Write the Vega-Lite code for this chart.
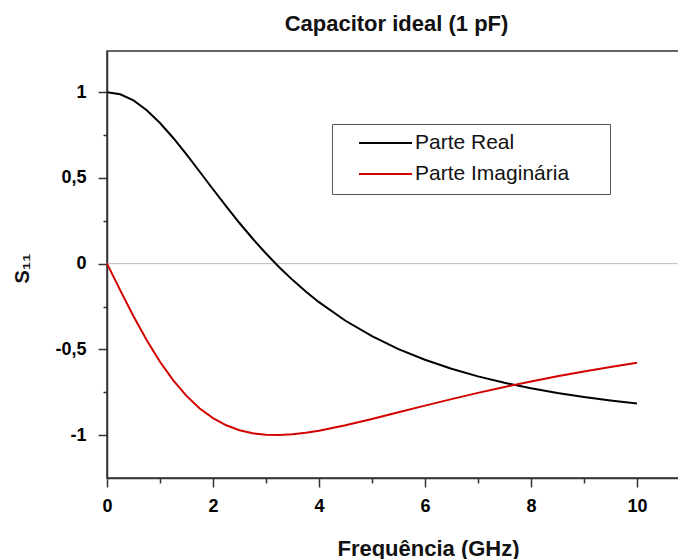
{
  "$schema": "https://vega.github.io/schema/vega-lite/v6.json",
  "width": 575,
  "height": 427,
  "autosize": "none",
  "padding": {"left": 107, "top": 51, "right": 0, "bottom": 81},
  "background": "white",
  "title": {"text": "Capacitor ideal (1 pF)", "font": "Liberation Sans", "fontSize": 22, "fontWeight": "bold", "color": "#111111", "anchor": "middle", "frame": "group", "baseline": "alphabetic", "offset": -2, "dx": 2},
  "config": {
    "view": {"stroke": "#333333", "strokeWidth": 1.5},
    "axis": {"grid": false, "domainColor": "#333333", "domainWidth": 1.5, "tickColor": "#333333", "tickWidth": 1.5, "labelFont": "Liberation Sans", "labelFontSize": 18, "labelFontWeight": "bold", "labelColor": "#000000", "labelFlush": false, "titleFont": "Liberation Sans", "titleFontWeight": "bold", "titleColor": "#111111"}
  },
  "layer": [
    {
      "data": {"values": [{"zero": 0}]},
      "mark": {"type": "rule", "color": "#bdbdbd", "strokeWidth": 1},
      "encoding": {
        "y": {"field": "zero", "type": "quantitative", "scale": {"domain": [-1.25, 1.24], "nice": false, "zero": false}, "axis": {"orient": "left", "values": [-0.75, -0.25, 0.25, 0.75], "labels": false, "domain": false, "tickSize": 4, "title": null}},
        "x": {"datum": 0, "type": "quantitative", "scale": {"domain": [0, 10.85], "nice": false}, "axis": {"orient": "bottom", "values": [1, 3, 5, 7, 9], "labels": false, "domain": false, "tickSize": 5, "title": null}},
        "x2": {"datum": 10.85}
      }
    },
    {
      "data": {"values": [
        {"f": 0, "s11": 1.0, "parte": "Parte Real"},
        {"f": 0.25, "s11": 0.9877, "parte": "Parte Real"},
        {"f": 0.5, "s11": 0.9518, "parte": "Parte Real"},
        {"f": 0.75, "s11": 0.8948, "parte": "Parte Real"},
        {"f": 1, "s11": 0.8203, "parte": "Parte Real"},
        {"f": 1.25, "s11": 0.7328, "parte": "Parte Real"},
        {"f": 1.5, "s11": 0.6366, "parte": "Parte Real"},
        {"f": 1.75, "s11": 0.5358, "parte": "Parte Real"},
        {"f": 2, "s11": 0.4339, "parte": "Parte Real"},
        {"f": 2.25, "s11": 0.3337, "parte": "Parte Real"},
        {"f": 2.5, "s11": 0.2370, "parte": "Parte Real"},
        {"f": 2.75, "s11": 0.1452, "parte": "Parte Real"},
        {"f": 3, "s11": 0.0592, "parte": "Parte Real"},
        {"f": 3.25, "s11": -0.0208, "parte": "Parte Real"},
        {"f": 3.5, "s11": -0.0946, "parte": "Parte Real"},
        {"f": 3.75, "s11": -0.1625, "parte": "Parte Real"},
        {"f": 4, "s11": -0.2246, "parte": "Parte Real"},
        {"f": 4.5, "s11": -0.3330, "parte": "Parte Real"},
        {"f": 5, "s11": -0.4232, "parte": "Parte Real"},
        {"f": 5.5, "s11": -0.4982, "parte": "Parte Real"},
        {"f": 6, "s11": -0.5607, "parte": "Parte Real"},
        {"f": 6.5, "s11": -0.6132, "parte": "Parte Real"},
        {"f": 7, "s11": -0.6573, "parte": "Parte Real"},
        {"f": 7.5, "s11": -0.6947, "parte": "Parte Real"},
        {"f": 8, "s11": -0.7267, "parte": "Parte Real"},
        {"f": 8.5, "s11": -0.7540, "parte": "Parte Real"},
        {"f": 9, "s11": -0.7776, "parte": "Parte Real"},
        {"f": 9.5, "s11": -0.7981, "parte": "Parte Real"},
        {"f": 10, "s11": -0.8160, "parte": "Parte Real"},
        {"f": 0, "s11": 0.0, "parte": "Parte Imaginária"},
        {"f": 0.25, "s11": -0.1561, "parte": "Parte Imaginária"},
        {"f": 0.5, "s11": -0.3066, "parte": "Parte Imaginária"},
        {"f": 0.75, "s11": -0.4465, "parte": "Parte Imaginária"},
        {"f": 1, "s11": -0.5719, "parte": "Parte Imaginária"},
        {"f": 1.25, "s11": -0.6805, "parte": "Parte Imaginária"},
        {"f": 1.5, "s11": -0.7712, "parte": "Parte Imaginária"},
        {"f": 1.75, "s11": -0.8444, "parte": "Parte Imaginária"},
        {"f": 2, "s11": -0.9010, "parte": "Parte Imaginária"},
        {"f": 2.25, "s11": -0.9427, "parte": "Parte Imaginária"},
        {"f": 2.5, "s11": -0.9715, "parte": "Parte Imaginária"},
        {"f": 2.75, "s11": -0.9894, "parte": "Parte Imaginária"},
        {"f": 3, "s11": -0.9983, "parte": "Parte Imaginária"},
        {"f": 3.25, "s11": -0.9998, "parte": "Parte Imaginária"},
        {"f": 3.5, "s11": -0.9955, "parte": "Parte Imaginária"},
        {"f": 3.75, "s11": -0.9867, "parte": "Parte Imaginária"},
        {"f": 4, "s11": -0.9745, "parte": "Parte Imaginária"},
        {"f": 4.5, "s11": -0.9429, "parte": "Parte Imaginária"},
        {"f": 5, "s11": -0.9060, "parte": "Parte Imaginária"},
        {"f": 5.5, "s11": -0.8671, "parte": "Parte Imaginária"},
        {"f": 6, "s11": -0.8280, "parte": "Parte Imaginária"},
        {"f": 6.5, "s11": -0.7900, "parte": "Parte Imaginária"},
        {"f": 7, "s11": -0.7536, "parte": "Parte Imaginária"},
        {"f": 7.5, "s11": -0.7193, "parte": "Parte Imaginária"},
        {"f": 8, "s11": -0.6870, "parte": "Parte Imaginária"},
        {"f": 8.5, "s11": -0.6569, "parte": "Parte Imaginária"},
        {"f": 9, "s11": -0.6287, "parte": "Parte Imaginária"},
        {"f": 9.5, "s11": -0.6025, "parte": "Parte Imaginária"},
        {"f": 10, "s11": -0.5781, "parte": "Parte Imaginária"}
      ]},
      "mark": {"type": "line", "strokeWidth": 2},
      "encoding": {
        "x": {"field": "f", "type": "quantitative", "scale": {"domain": [0, 10.85], "nice": false}, "axis": {"orient": "bottom", "values": [0, 2, 4, 6, 8, 10], "format": "d", "tickSize": 9, "labelPadding": 10, "title": "Frequência (GHz)", "titleFontSize": 22, "titleX": 321, "titleY": 77, "titleBaseline": "alphabetic", "titleAlign": "center"}},
        "y": {"field": "s11", "type": "quantitative", "scale": {"domain": [-1.25, 1.24], "nice": false, "zero": false}, "axis": {"orient": "left", "values": [-1, -0.5, 0, 0.5, 1], "tickSize": 9, "labelPadding": 12, "labelExpr": "replace(replace(format(datum.value, '.1~f'), '.', ','), '−', '-')", "title": "S₁₁", "titleFontSize": 20, "titleX": -85, "titleY": 217, "titleAngle": -90, "titleAlign": "center", "titleBaseline": "middle"}},
        "color": {"field": "parte", "type": "nominal", "scale": {"domain": ["Parte Real", "Parte Imaginária"], "range": ["#000000", "#d40000"]}, "legend": {"orient": "none", "legendX": 225, "legendY": 73, "title": null, "symbolType": "stroke", "symbolSize": 2809, "symbolStrokeWidth": 2, "symbolOffset": 16, "labelOffset": 2, "clipHeight": 18, "rowPadding": 10, "padding": 10, "strokeColor": "#555555", "fillColor": "#ffffff", "labelFont": "Liberation Sans", "labelFontSize": 21, "labelLimit": 400, "labelColor": "#111111", "labelExpr": "datum.label + '\u2800\u2800'"}}
      }
    }
  ],
  "resolve": {"axis": {"x": "independent", "y": "independent"}}
}
